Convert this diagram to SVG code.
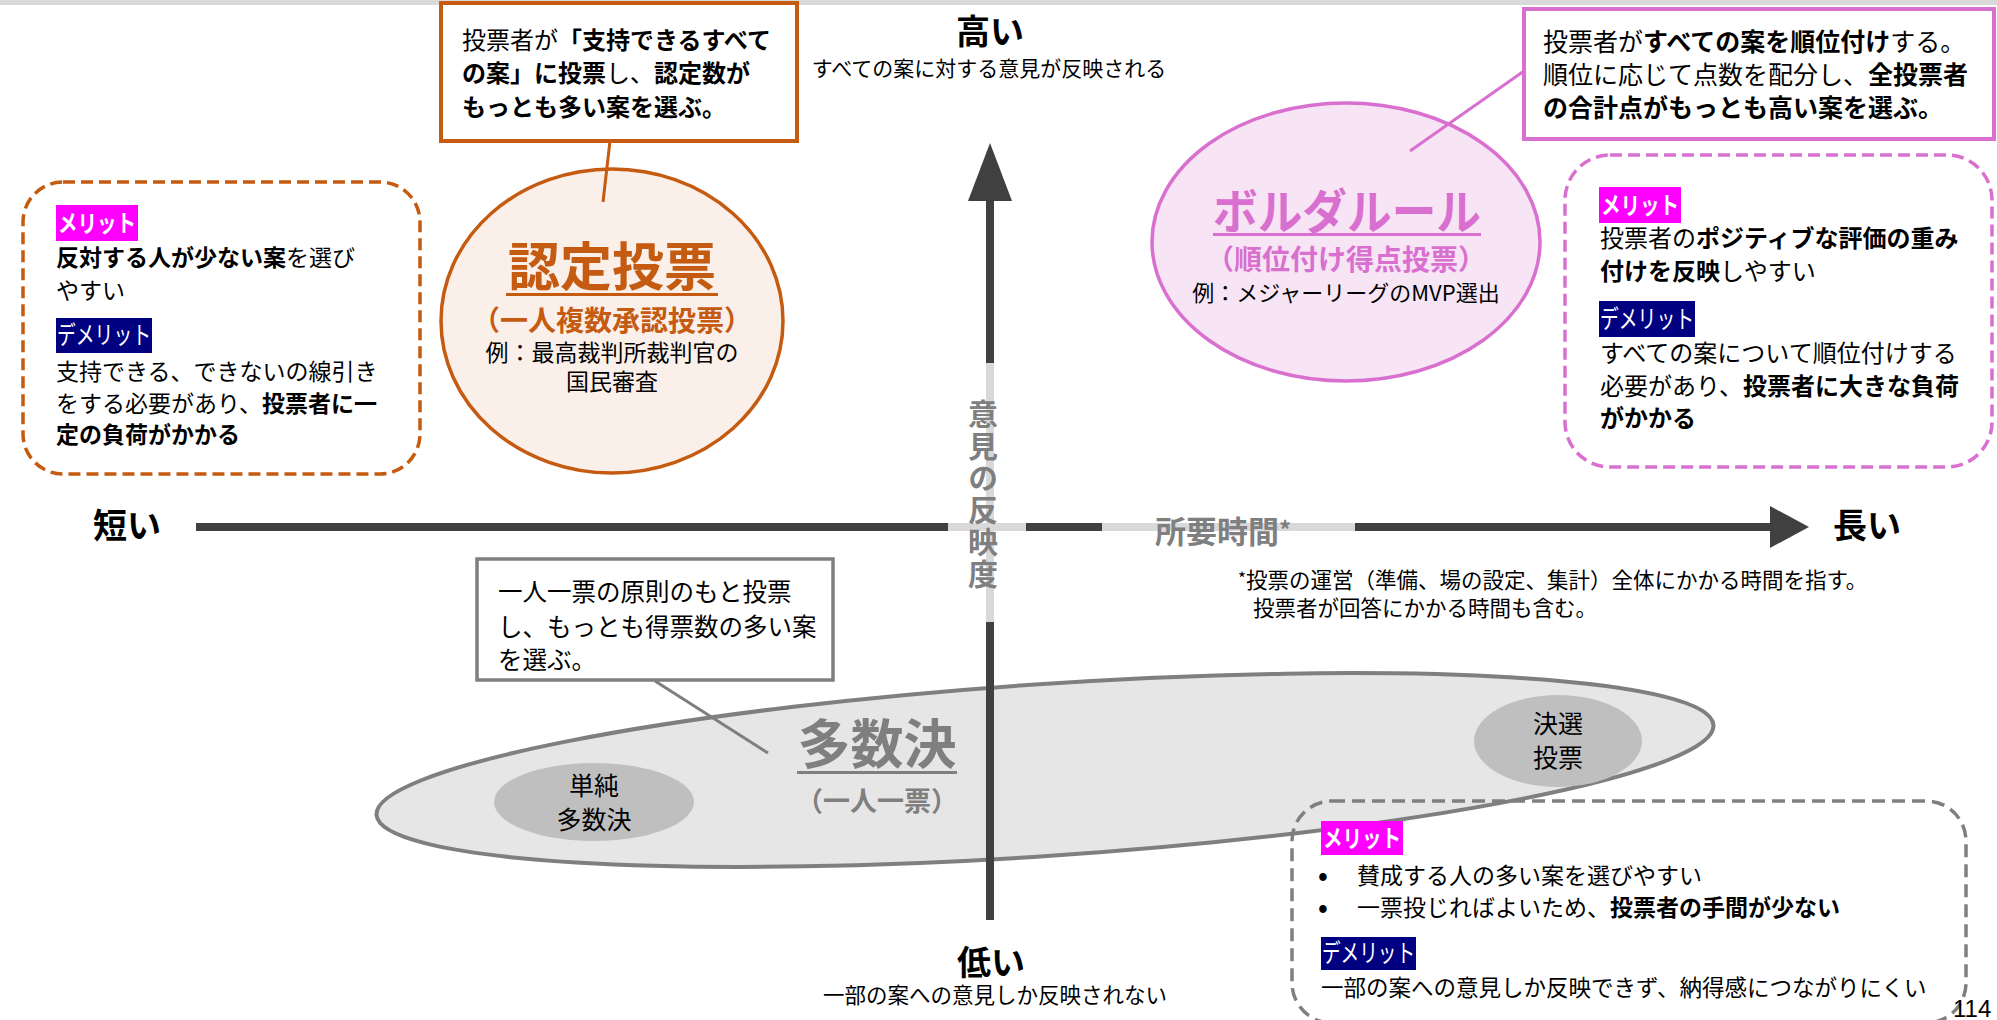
<svg xmlns="http://www.w3.org/2000/svg" width="1997" height="1020" viewBox="0 0 1997 1020">
<defs>
<style>
text { font-family: "Noto Sans CJK JP", "Noto Sans", sans-serif; fill: #000; }
.b { font-weight: 700; }
.org { fill: #C55A11; }
.pnk { fill: #D970CF; }
.gry { fill: #7F7F7F; }
.wht { fill: #FFFFFF; }
.mid { text-anchor: middle; }
.axd { stroke: #404040; stroke-width: 8; fill: none; }
.axl { stroke: #D9D9D9; stroke-width: 8; fill: none; }
.lab-m { fill: #FF00FF; }
.lab-d { fill: #000080; }
.dash-o { fill: none; stroke: #C55A11; stroke-width: 3.5; stroke-dasharray: 12 6; }
.dash-p { fill: none; stroke: #D970CF; stroke-width: 3.5; stroke-dasharray: 12 6; }
.dash-g { fill: none; stroke: #7F7F7F; stroke-width: 3.5; stroke-dasharray: 13 7; }
</style>
</defs>

<rect x="0" y="0" width="1997" height="5" fill="#D9D9D9"/>

<!-- Majority ellipse -->
<g id="node-majority">
  <ellipse cx="1045" cy="770" rx="670" ry="86" transform="rotate(-3.85 1045 770)" fill="#E6E6E6" stroke="#7F7F7F" stroke-width="4"/>
  <text class="b gry mid" x="877" y="764" font-size="53">多数決</text>
  <rect x="797" y="771" width="160" height="3" fill="#7F7F7F"/>
  <text class="b gry mid" x="877" y="811" font-size="27">（一人一票）</text>
</g>
<g id="node-simple-majority">
  <ellipse cx="594" cy="802" rx="100" ry="39" fill="#BFBFBF"/>
  <text class="mid" x="594" y="795" font-size="25" fill="#262626">単純</text>
  <text class="mid" x="594" y="829" font-size="25" fill="#262626">多数決</text>
</g>
<g id="node-runoff">
  <ellipse cx="1558" cy="741" rx="84" ry="46" fill="#BFBFBF"/>
  <text class="mid" x="1558" y="733" font-size="25" fill="#262626">決選</text>
  <text class="mid" x="1558" y="767" font-size="25" fill="#262626">投票</text>
</g>

<!-- Axes -->
<g id="axes">
  <line class="axd" x1="990" y1="199" x2="990" y2="364"/>
  <line class="axl" x1="990" y1="363" x2="990" y2="623"/>
  <line class="axd" x1="990" y1="622" x2="990" y2="920"/>
  <polygon points="990,143 968,201 1012,201" fill="#404040"/>
  <line class="axd" x1="196" y1="527" x2="949" y2="527"/>
  <line class="axl" x1="948" y1="527" x2="1027" y2="527"/>
  <line class="axd" x1="1026" y1="527" x2="1103" y2="527"/>
  <line class="axl" x1="1102" y1="527" x2="1356" y2="527"/>
  <line class="axd" x1="1355" y1="527" x2="1772" y2="527"/>
  <polygon points="1770,506 1809,527 1770,548" fill="#404040"/>
  <text class="b gry" x="1155" y="543" font-size="31">所要時間<tspan font-size="24" dy="-4">*</tspan></text>
  <text class="b gry" x="983" y="399" font-size="30" writing-mode="vertical-rl" letter-spacing="2">意見の反映度</text>
  <text class="b mid" x="990" y="44" font-size="34">高い</text>
  <text class="mid" x="989" y="76" font-size="21">すべての案に対する意見が反映される</text>
  <text class="b mid" x="991" y="975" font-size="34">低い</text>
  <text class="mid" x="995" y="1003" font-size="21.5">一部の案への意見しか反映されない</text>
  <text class="b mid" x="127" y="538" font-size="34">短い</text>
  <text class="b mid" x="1867" y="538" font-size="34">長い</text>
  <text x="1238" y="588" font-size="21.5"><tspan font-size="17" dy="-3">*</tspan><tspan dy="3">投票の運営（準備、場の設定、集計）全体にかかる時間を指す。</tspan></text>
  <text x="1253" y="616" font-size="21.5">投票者が回答にかかる時間も含む。</text>
</g>

<!-- Approval voting -->
<g id="node-approval">
  <ellipse cx="612" cy="321" rx="171" ry="152" fill="#FBEFE9" stroke="#C55A11" stroke-width="3.5"/>
  <text class="b org mid" x="612" y="286" font-size="52">認定投票</text>
  <rect x="506" y="293" width="212" height="3" fill="#C55A11"/>
  <text class="b org mid" x="612" y="331" font-size="28">（一人複数承認投票）</text>
  <text class="mid" x="612" y="361" font-size="23">例：最高裁判所裁判官の</text>
  <text class="mid" x="612" y="390" font-size="23">国民審査</text>
</g>
<g id="note-approval">
  <rect x="441" y="3" width="356" height="138" fill="#FFFFFF" stroke="#C55A11" stroke-width="4"/>
  <text x="462" y="49" font-size="24">投票者が<tspan class="b">「支持できるすべて</tspan></text>
  <text x="462" y="82" font-size="24"><tspan class="b">の案」に投票</tspan>し、<tspan class="b">認定数が</tspan></text>
  <text class="b" x="462" y="116" font-size="24">もっとも多い案を選ぶ。</text>
</g>
<g id="merit-approval">
  <rect x="23" y="182" width="397" height="292" rx="40" class="dash-o"/>
  <rect x="56" y="205" width="82" height="36" class="lab-m"/>
  <text class="b wht" x="58" y="232" font-size="24" textLength="78" lengthAdjust="spacingAndGlyphs">メリット</text>
  <text x="56" y="266" font-size="23"><tspan class="b">反対する人が少ない案</tspan>を選び</text>
  <text x="56" y="299" font-size="23">やすい</text>
  <rect x="56" y="318" width="96" height="35" class="lab-d"/>
  <text class="wht" x="57" y="344" font-size="25" textLength="94" lengthAdjust="spacingAndGlyphs">デメリット</text>
  <text x="56" y="380" font-size="23">支持できる、できないの線引き</text>
  <text x="56" y="412" font-size="23">をする必要があり、<tspan class="b">投票者に一</tspan></text>
  <text class="b" x="56" y="443" font-size="23">定の負荷がかかる</text>
</g>

<!-- Borda rule -->
<g id="node-borda">
  <ellipse cx="1346" cy="242" rx="194" ry="139" fill="#F7E4F5" stroke="#D970CF" stroke-width="3.5"/>
  <text class="b pnk" x="1213" y="229" font-size="48" textLength="268" lengthAdjust="spacingAndGlyphs">ボルダルール</text>
  <rect x="1213" y="233" width="268" height="3" fill="#D970CF"/>
  <text class="b pnk mid" x="1346" y="270" font-size="28">（順位付け得点投票）</text>
  <text class="mid" x="1346" y="301" font-size="22">例：メジャーリーグのMVP選出</text>
</g>
<g id="note-borda">
  <rect x="1524" y="9" width="470" height="130" fill="#FFFFFF" stroke="#D970CF" stroke-width="4"/>
  <text x="1543" y="51" font-size="25">投票者が<tspan class="b">すべての案を順位付け</tspan>する。</text>
  <text x="1543" y="84" font-size="25">順位に応じて点数を配分し、<tspan class="b">全投票者</tspan></text>
  <text class="b" x="1543" y="117" font-size="25">の合計点がもっとも高い案を選ぶ。</text>
</g>
<g id="merit-borda">
  <rect x="1565" y="155" width="427" height="312" rx="45" class="dash-p"/>
  <rect x="1599" y="187" width="82" height="36" class="lab-m"/>
  <text class="b wht" x="1601" y="214" font-size="24" textLength="78" lengthAdjust="spacingAndGlyphs">メリット</text>
  <text x="1600" y="247" font-size="24">投票者の<tspan class="b">ポジティブな評価の重み</tspan></text>
  <text x="1600" y="280" font-size="24"><tspan class="b">付けを反映</tspan>しやすい</text>
  <rect x="1599" y="301" width="96" height="36" class="lab-d"/>
  <text class="wht" x="1600" y="328" font-size="25" textLength="94" lengthAdjust="spacingAndGlyphs">デメリット</text>
  <text x="1600" y="362" font-size="24">すべての案について順位付けする</text>
  <text x="1600" y="395" font-size="24">必要があり、<tspan class="b">投票者に大きな負荷</tspan></text>
  <text class="b" x="1600" y="427" font-size="24">がかかる</text>
</g>

<!-- Majority note and merits -->
<g id="note-majority">
  <rect x="477" y="559" width="356" height="121" fill="#FFFFFF" stroke="#7F7F7F" stroke-width="3.5"/>
  <text x="498" y="601" font-size="24.5">一人一票の原則のもと投票</text>
  <text x="498" y="636" font-size="24.5">し、もっとも得票数の多い案</text>
  <text x="498" y="669" font-size="24.5">を選ぶ。</text>
</g>
<g id="merit-majority">
  <rect x="1292" y="801" width="674" height="222" rx="40" class="dash-g"/>
  <rect x="1321" y="821" width="82" height="34" class="lab-m"/>
  <text class="b wht" x="1323" y="847" font-size="24" textLength="78" lengthAdjust="spacingAndGlyphs">メリット</text>
  <text class="b" x="1318" y="885" font-size="26">•</text>
  <text x="1357" y="884" font-size="23">賛成する人の多い案を選びやすい</text>
  <text class="b" x="1318" y="917" font-size="26">•</text>
  <text x="1357" y="916" font-size="23">一票投じればよいため、<tspan class="b">投票者の手間が少ない</tspan></text>
  <rect x="1321" y="937" width="95" height="33" class="lab-d"/>
  <text class="wht" x="1322" y="962" font-size="25" textLength="93" lengthAdjust="spacingAndGlyphs">デメリット</text>
  <text x="1321" y="996" font-size="22.5">一部の案への意見しか反映できず、納得感につながりにくい</text>
</g>

<!-- Connectors -->
<g id="connectors" fill="none" stroke-width="3">
  <line x1="610" y1="141" x2="603" y2="202" stroke="#C55A11"/>
  <line x1="1524" y1="71" x2="1410" y2="151" stroke="#D970CF"/>
  <line x1="655" y1="681" x2="768" y2="753" stroke="#7F7F7F"/>
</g>

<text x="1953" y="1017" font-size="24" style="font-family:'Liberation Sans', sans-serif">114</text>
</svg>
